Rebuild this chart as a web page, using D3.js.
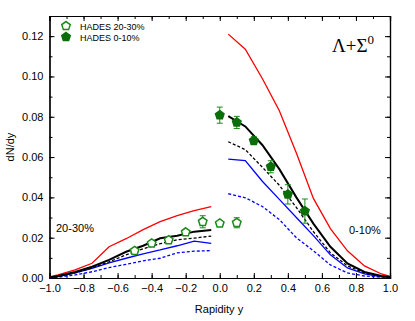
<!DOCTYPE html>
<html><head><meta charset="utf-8">
<script src="https://cdn.jsdelivr.net/npm/d3@7"></script>
<style>body{margin:0;background:#fff}svg{display:block}</style>
</head><body><svg id="c" width="415" height="321"></svg>
<script>
const xLeft = [-1.0,-0.95,-0.85,-0.75,-0.65,-0.55,-0.45,-0.35,-0.25,-0.15,-0.05];
const redLeft = [0.0005,0.0015,0.004,0.0073,0.0155,0.0195,0.024,0.028,0.031,0.0334,0.0354];
const blackLeft = [0.0003,0.001,0.003,0.0056,0.009,0.013,0.016,0.0197,0.021,0.023,0.0238];
const blackDashLeft = [0.0002,0.0008,0.0025,0.005,0.008,0.0115,0.0145,0.017,0.019,0.0198,0.0208];
const blueLeft = [0.0002,0.0007,0.0025,0.0048,0.0075,0.0098,0.012,0.0139,0.016,0.0183,0.0172];
const blueDashLeft = [0.0001,0.0004,0.0015,0.0031,0.0052,0.0068,0.0085,0.0098,0.0125,0.0133,0.0136];

const xRight = [0.05,0.15,0.25,0.35,0.45,0.55,0.65,0.75,0.85,0.95,1.0];
const redRight = [0.121,0.1135,0.099,0.083,0.062,0.0395,0.0245,0.0135,0.006,0.002,0.0008];
const blackRight = [0.0803,0.0752,0.066,0.054,0.040,0.027,0.0155,0.0072,0.003,0.001,0.0005];
const blackDashRight = [0.0676,0.0637,0.055,0.046,0.035,0.023,0.0125,0.006,0.0025,0.0008,0.0004];
const blueRight = [0.059,0.0583,0.048,0.039,0.030,0.021,0.0115,0.005,0.002,0.0006,0.0003];
const blueDashRight = [0.0418,0.0398,0.0355,0.029,0.020,0.0135,0.0065,0.0025,0.001,0.0004,0.0002];

const hades2030X = [-0.5,-0.4,-0.3,-0.2,-0.1,0.0,0.1];
const hades2030Y = [0.0135,0.0172,0.0188,0.0227,0.0279,0.0271,0.0274];
const hades2030Err = [0.001,0.001,0.001,0.0012,0.003,0.001,0.0025];
const hades010X = [0.0,0.1,0.2,0.3,0.4,0.5];
const hades010Y = [0.0808,0.0772,0.0681,0.0552,0.0415,0.0332];
const hades010Err = [0.004,0.003,0.002,0.003,0.0048,0.006];

const xTicks = [-1.0,-0.8,-0.6,-0.4,-0.2,0.0,0.2,0.4,0.6,0.8,1.0];
const yTicks = [0.00,0.02,0.04,0.06,0.08,0.10,0.12];

const svg = d3.select('#c');
const m = {l:49.5, r:390, t:16, b:278};
const x = d3.scaleLinear().domain([-1,1]).range([m.l,m.r]);
const y = d3.scaleLinear().domain([0,0.13]).range([m.b,m.t]);
const font = 'Liberation Sans, Arial, sans-serif';

// axes
const minorX = d3.range(-1,1.0001,0.1);
const minorY = d3.range(0,0.1301,0.01);
svg.append('g').attr('transform',`translate(0,${m.b})`)
  .call(d3.axisBottom(x).tickValues(xTicks).tickFormat(d3.format('.1f')).tickSize(-5).tickPadding(6));
svg.append('g').attr('transform',`translate(0,${m.t})`)
  .call(d3.axisTop(x).tickValues(xTicks).tickFormat('').tickSize(-5));
svg.append('g').attr('transform',`translate(${m.l},0)`)
  .call(d3.axisLeft(y).tickValues(yTicks).tickFormat(d3.format('.2f')).tickSize(-5).tickPadding(6));
svg.append('g').attr('transform',`translate(${m.r},0)`)
  .call(d3.axisRight(y).tickValues(yTicks).tickFormat('').tickSize(-5));
svg.append('g').attr('transform',`translate(0,${m.b})`).call(d3.axisBottom(x).tickValues(minorX).tickFormat('').tickSize(-3));
svg.append('g').attr('transform',`translate(0,${m.t})`).call(d3.axisTop(x).tickValues(minorX).tickFormat('').tickSize(-3));
svg.append('g').attr('transform',`translate(${m.l},0)`).call(d3.axisLeft(y).tickValues(minorY).tickFormat('').tickSize(-3));
svg.append('g').attr('transform',`translate(${m.r},0)`).call(d3.axisRight(y).tickValues(minorY).tickFormat('').tickSize(-3));
svg.selectAll('.domain').attr('stroke','#000').attr('stroke-width',1.2);
svg.selectAll('.tick line').attr('stroke','#000');
svg.selectAll('.tick text').attr('font-family',font).attr('font-size',11).attr('fill','#000');

// lines
const line = d3.line().x(d=>x(d[0])).y(d=>y(d[1]));
function draw(xs, ys, color, w, dash){
  svg.append('path').datum(xs.map((v,i)=>[v,ys[i]]))
    .attr('d',line).attr('fill','none').attr('stroke',color).attr('stroke-width',w)
    .attr('stroke-dasharray',dash||null);
}
draw(xLeft, redLeft, '#ff0000', 1.3);
draw(xLeft, blueDashLeft, '#0000ff', 1.3, '3,2');
draw(xLeft, blueLeft, '#0000ff', 1.3);
draw(xLeft, blackDashLeft, '#000', 1.3, '3,2');
draw(xLeft, blackLeft, '#000', 2);
draw(xRight, redRight, '#ff0000', 1.3);
draw(xRight, blueDashRight, '#0000ff', 1.3, '3,2');
draw(xRight, blueRight, '#0000ff', 1.3);
draw(xRight, blackDashRight, '#000', 1.3, '3,2');
draw(xRight, blackRight, '#000', 2);

// data points
const pent = d3.symbol().type({draw(ctx,size){const r=Math.sqrt(size/2.4);for(let i=0;i<5;i++){const a=-Math.PI/2+i*2*Math.PI/5;const px=r*Math.cos(a),py=r*Math.sin(a);if(i===0)ctx.moveTo(px,py);else ctx.lineTo(px,py);}ctx.closePath();}}).size(48);
const green = '#1a8a1a';
function points(xs, ys, es, filled){
  const g = svg.append('g');
  xs.forEach((xv,i)=>{
    const cx=x(xv), y1=y(ys[i]-es[i]), y2=y(ys[i]+es[i]);
    g.append('line').attr('x1',cx).attr('x2',cx).attr('y1',y1).attr('y2',y2).attr('stroke',green).attr('stroke-width',1);
    g.append('line').attr('x1',cx-3).attr('x2',cx+3).attr('y1',y1).attr('y2',y1).attr('stroke',green);
    g.append('line').attr('x1',cx-3).attr('x2',cx+3).attr('y1',y2).attr('y2',y2).attr('stroke',green);
    g.append('path').attr('d',pent).attr('transform',`translate(${cx},${y(ys[i])})`)
      .attr('fill',filled?'#0b6e0b':'#fff').attr('stroke',filled?'#0b6e0b':green).attr('stroke-width',1.5);
  });
}
points(hades2030X, hades2030Y, hades2030Err, false);
points(hades010X, hades010Y, hades010Err, true);

// legend
svg.append('path').attr('d',pent).attr('transform','translate(66,26)').attr('fill','#fff').attr('stroke',green).attr('stroke-width',1.5);
svg.append('path').attr('d',pent).attr('transform','translate(66,37)').attr('fill','#0b6e0b').attr('stroke','#0b6e0b').attr('stroke-width',1.5);
svg.append('text').attr('x',80).attr('y',30).text('HADES 20-30%').attr('font-family',font).attr('font-size',9);
svg.append('text').attr('x',80).attr('y',41).text('HADES 0-10%').attr('font-family',font).attr('font-size',9);

// annotations
const t = svg.append('text').attr('x',332).attr('y',52).attr('font-family','Liberation Serif, Times New Roman, serif').attr('font-size',19);
t.append('tspan').text('Λ+Σ');
t.append('tspan').attr('dy',-8).attr('font-size',13).text('0');
svg.append('text').attr('x',56).attr('y',232).text('20-30%').attr('font-family',font).attr('font-size',11);
svg.append('text').attr('x',349).attr('y',234).text('0-10%').attr('font-family',font).attr('font-size',11);
svg.append('text').attr('x',219).attr('y',313).attr('text-anchor','middle').text('Rapidity y').attr('font-family',font).attr('font-size',11);
svg.append('text').attr('transform','translate(14,147) rotate(-90)').attr('text-anchor','middle').text('dN/dy').attr('font-family',font).attr('font-size',11);
</script></body></html>
